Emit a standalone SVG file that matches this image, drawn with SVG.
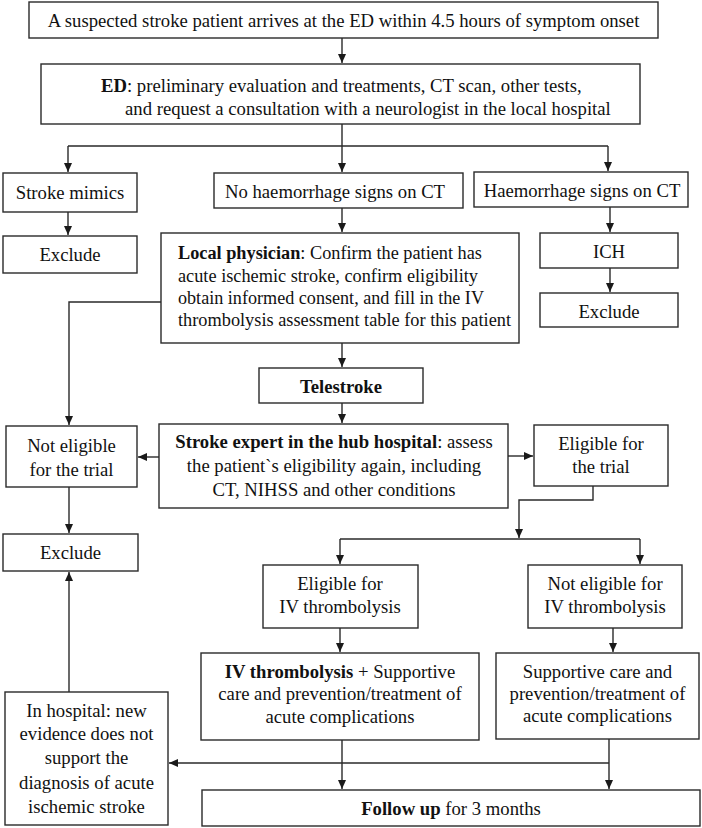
<svg xmlns="http://www.w3.org/2000/svg" width="702" height="828" viewBox="0 0 702 828">
<style>
.box{fill:#fff;stroke:#2a2a2a;stroke-width:1.4}
.t{font-family:"Liberation Serif","Times New Roman",serif;font-size:18.7px;fill:#111}
.c{text-anchor:middle}
.b{font-weight:bold}
.ln{fill:none;stroke:#2a2a2a;stroke-width:1.4}
.ar{fill:none;stroke:#2a2a2a;stroke-width:1.4;marker-end:url(#ah)}
</style>
<defs>
<marker id="ah" markerWidth="10" markerHeight="10" refX="9" refY="4" orient="auto" markerUnits="userSpaceOnUse">
<path d="M0,0 L9,4 L0,8 Z" fill="#1a1a1a"/>
</marker>
</defs>
<rect width="702" height="828" fill="#fff"/>
<g id="connectors">
<path class="ar" d="M342,38 V63"/>
<path class="ln" d="M342,124 V146 M68,146 H608"/>
<path class="ar" d="M68,146 V172"/>
<path class="ar" d="M342,146 V172"/>
<path class="ar" d="M608,146 V171"/>
<path class="ar" d="M68,212 V235"/>
<path class="ar" d="M342,208 V232"/>
<path class="ar" d="M610,207 V232"/>
<path class="ar" d="M610,268 V292"/>
<path class="ar" d="M161,302 H69 V425"/>
<path class="ar" d="M342,343 V367"/>
<path class="ar" d="M342,403 V423"/>
<path class="ar" d="M159,457 H138"/>
<path class="ar" d="M508,456 H533"/>
<path class="ar" d="M69,487 V533"/>
<path class="ar" d="M593,486 V500 H519 V538"/>
<path class="ln" d="M340,539 H640"/>
<path class="ar" d="M340,539 V564"/>
<path class="ar" d="M640,539 V564"/>
<path class="ar" d="M340,628 V652"/>
<path class="ar" d="M613,628 V652"/>
<path class="ar" d="M342,740 V789"/>
<path class="ar" d="M609,739 V789"/>
<path class="ar" d="M609,763 H169"/>
<path class="ar" d="M69,692 V572"/>
</g>
<g id="n-arrive">
<rect class="box" x="29" y="2" width="629" height="36"/>
<text class="t c" x="343.5" y="27">A suspected stroke patient arrives at the ED within 4.5 hours of symptom onset</text>
</g>
<g id="n-ed">
<rect class="box" x="41" y="64" width="599" height="60"/>
<text class="t" x="101" y="92"><tspan class="b">ED</tspan>: preliminary evaluation and treatments, CT scan, other tests,</text>
<text class="t" x="125" y="115">and request a consultation with a neurologist in the local hospital</text>
</g>
<g id="n-mimics">
<rect class="box" x="3" y="173" width="134" height="39"/>
<text class="t c" x="70" y="199">Stroke mimics</text>
</g>
<g id="n-exclude1">
<rect class="box" x="3" y="236" width="134" height="37"/>
<text class="t c" x="70" y="261">Exclude</text>
</g>
<g id="n-nohaem">
<rect class="box" x="214" y="173" width="249" height="35"/>
<text class="t c" x="335" y="198">No haemorrhage signs on CT</text>
</g>
<g id="n-haem">
<rect class="box" x="474" y="172" width="214" height="35"/>
<text class="t c" x="582" y="197">Haemorrhage signs on CT</text>
</g>
<g id="n-ich">
<rect class="box" x="540" y="233" width="138" height="35"/>
<text class="t c" x="609" y="258">ICH</text>
</g>
<g id="n-exclude2">
<rect class="box" x="540" y="293" width="138" height="34"/>
<text class="t c" x="609" y="318">Exclude</text>
</g>
<g id="n-local">
<rect class="box" x="161" y="233" width="358" height="110"/>
<text class="t" x="178" y="259" textLength="304" lengthAdjust="spacingAndGlyphs"><tspan class="b">Local physician</tspan>: Confirm the patient has</text>
<text class="t" x="178" y="282" textLength="300" lengthAdjust="spacingAndGlyphs">acute ischemic stroke, confirm eligibility</text>
<text class="t" x="178" y="304" textLength="306" lengthAdjust="spacingAndGlyphs">obtain informed consent, and fill in the IV</text>
<text class="t" x="178" y="326" textLength="333" lengthAdjust="spacingAndGlyphs">thrombolysis assessment table for this patient</text>
</g>
<g id="n-telestroke">
<rect class="box" x="259" y="368" width="164" height="35"/>
<text class="t c b" x="341" y="393">Telestroke</text>
</g>
<g id="n-expert">
<rect class="box" x="159" y="424" width="349" height="84"/>
<text class="t c" x="334" y="448"><tspan class="b">Stroke expert in the hub hospital</tspan>: assess</text>
<text class="t c" x="334" y="472">the patient`s eligibility again, including</text>
<text class="t c" x="334" y="496">CT, NIHSS and other conditions</text>
</g>
<g id="n-noteligible-trial">
<rect class="box" x="6" y="426" width="131" height="61"/>
<text class="t c" x="71.5" y="452">Not eligible</text>
<text class="t c" x="71.5" y="476">for the trial</text>
</g>
<g id="n-eligible-trial">
<rect class="box" x="534" y="425" width="134" height="61"/>
<text class="t c" x="601" y="450">Eligible for</text>
<text class="t c" x="601" y="473">the trial</text>
</g>
<g id="n-exclude3">
<rect class="box" x="3" y="534" width="135" height="37"/>
<text class="t c" x="70.5" y="559">Exclude</text>
</g>
<g id="n-eligible-iv">
<rect class="box" x="263" y="565" width="155" height="63"/>
<text class="t c" x="340" y="590">Eligible for</text>
<text class="t c" x="340" y="613">IV thrombolysis</text>
</g>
<g id="n-noteligible-iv">
<rect class="box" x="528" y="565" width="154" height="63"/>
<text class="t c" x="605" y="590">Not eligible for</text>
<text class="t c" x="605" y="613">IV thrombolysis</text>
</g>
<g id="n-ivt">
<rect class="box" x="201" y="653" width="278" height="87"/>
<text class="t c" x="340" y="678"><tspan class="b">IV thrombolysis</tspan> + Supportive</text>
<text class="t c" x="340" y="700">care and prevention/treatment of</text>
<text class="t c" x="340" y="723">acute complications</text>
</g>
<g id="n-supportive">
<rect class="box" x="496" y="653" width="203" height="86"/>
<text class="t c" x="597.5" y="678">Supportive care and</text>
<text class="t c" x="597.5" y="700">prevention/treatment of</text>
<text class="t c" x="597.5" y="722">acute complications</text>
</g>
<g id="n-inhospital">
<rect class="box" x="5" y="692" width="163" height="133"/>
<text class="t c" x="86.5" y="717">In hospital: new</text>
<text class="t c" x="86.5" y="740">evidence does not</text>
<text class="t c" x="86.5" y="764">support the</text>
<text class="t c" x="86.5" y="789">diagnosis of acute</text>
<text class="t c" x="86.5" y="813">ischemic stroke</text>
</g>
<g id="n-followup">
<rect class="box" x="202" y="790" width="498" height="36"/>
<text class="t c" x="451" y="815"><tspan class="b">Follow up</tspan> for 3 months</text>
</g>
</svg>
